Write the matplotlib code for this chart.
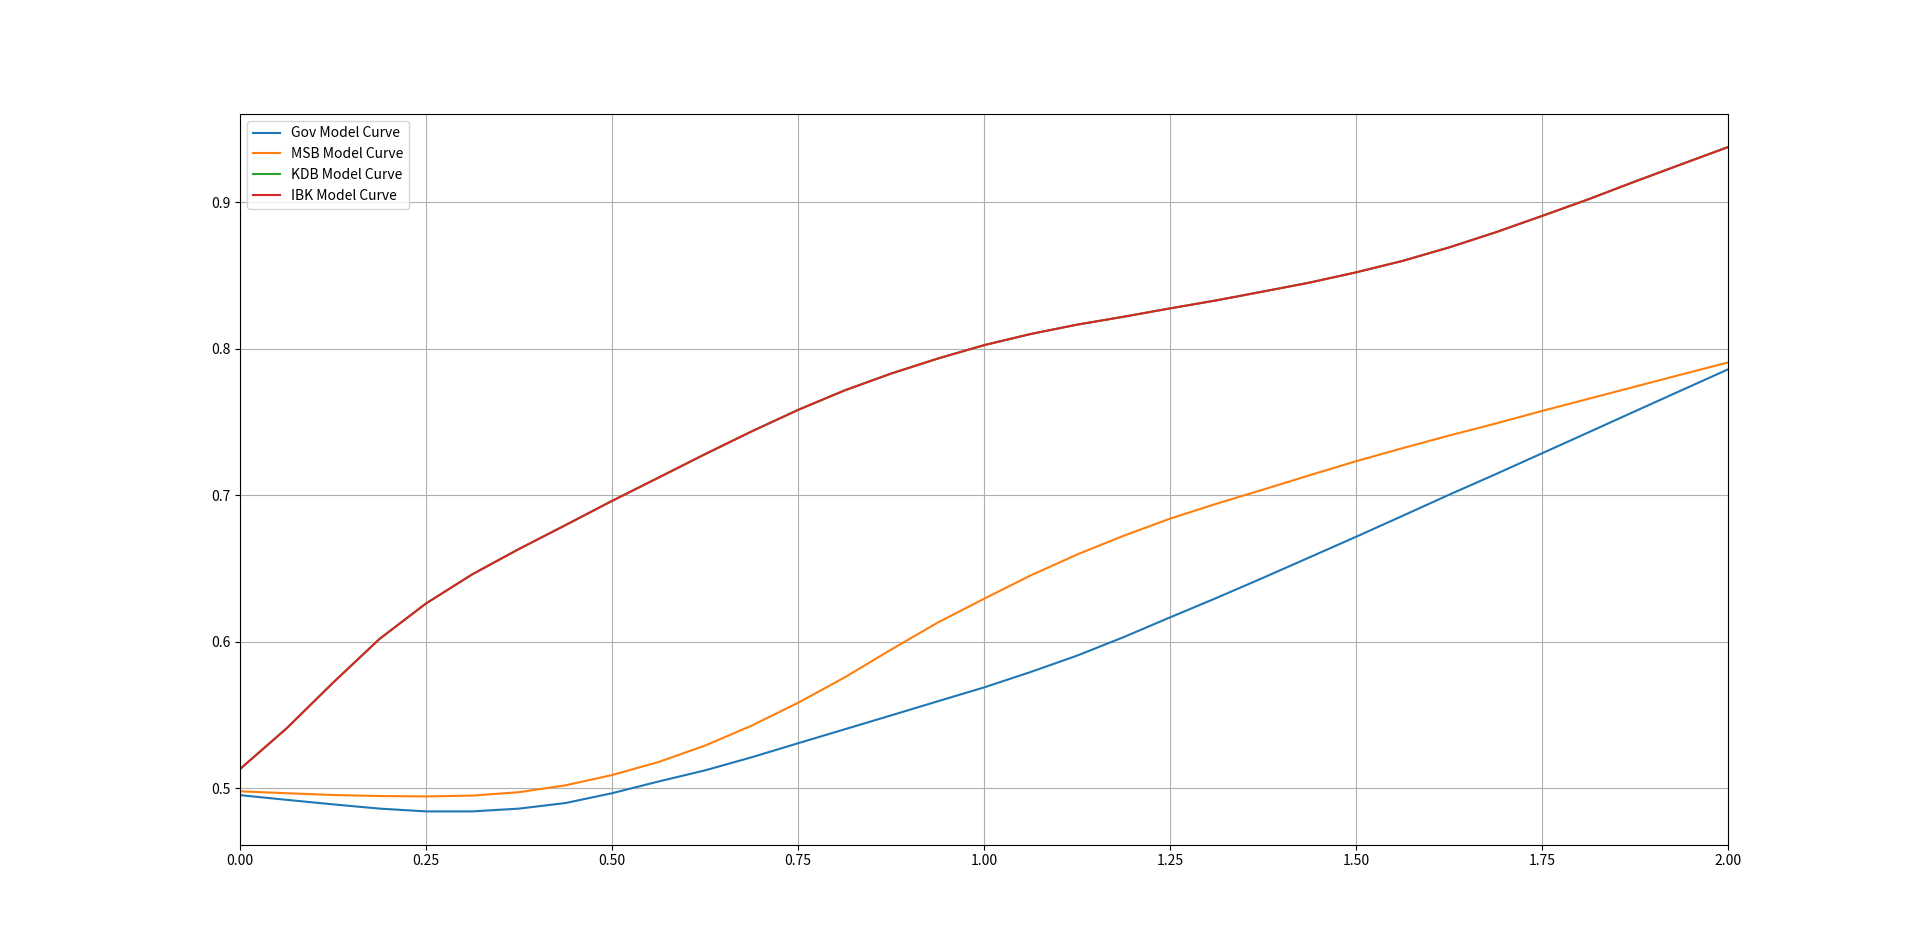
import matplotlib
matplotlib.use('Agg')
import matplotlib.pyplot as plt

plt.rcParams['font.family'] = ['Noto Sans CJK KR', 'DejaVu Sans']
plt.rcParams['axes.unicode_minus'] = False

# --- 값 ---
x_vals = [0.0, 0.0625, 0.125, 0.1875, 0.25, 0.3125, 0.375, 0.4375,
          0.5, 0.5625, 0.625, 0.6875, 0.75, 0.8125, 0.875, 0.9375,
          1.0, 1.0625, 1.125, 1.1875, 1.25, 1.3125, 1.375, 1.4375,
          1.5, 1.5625, 1.625, 1.6875, 1.75, 1.8125, 1.875, 1.9375, 2.0]

gov_curve = [0.4952, 0.4920, 0.4889, 0.4860, 0.4841, 0.4841, 0.4860, 0.4898,
             0.4965, 0.5045, 0.5121, 0.5210, 0.5306, 0.5401, 0.5496, 0.5592,
             0.5687, 0.5792, 0.5904, 0.6030, 0.6165, 0.6298, 0.6435, 0.6575,
             0.6715, 0.6858, 0.7002, 0.7142, 0.7285, 0.7428, 0.7572, 0.7715, 0.7858]
msb_curve = [0.4978, 0.4965, 0.4953, 0.4946, 0.4943, 0.4949, 0.4972, 0.5019,
             0.5089, 0.5178, 0.5290, 0.5426, 0.5582, 0.5755, 0.5945, 0.6129,
             0.6292, 0.6451, 0.6594, 0.6722, 0.6839, 0.6941, 0.7037, 0.7135,
             0.7231, 0.7320, 0.7406, 0.7488, 0.7574, 0.7657, 0.7740, 0.7823, 0.7905]
kdb_curve = [0.5130, 0.5407, 0.5719, 0.6018, 0.6260, 0.6460, 0.6632, 0.6795,
             0.6960, 0.7119, 0.7279, 0.7434, 0.7581, 0.7714, 0.7829, 0.7931,
             0.8023, 0.8099, 0.8163, 0.8217, 0.8274, 0.8329, 0.8389, 0.8450,
             0.8520, 0.8598, 0.8690, 0.8793, 0.8905, 0.9019, 0.9140, 0.9258, 0.9375]
ibk_curve = [0.5130, 0.5407, 0.5719, 0.6018, 0.6260, 0.6460, 0.6632, 0.6795,
             0.6960, 0.7119, 0.7279, 0.7434, 0.7581, 0.7714, 0.7829, 0.7931,
             0.8023, 0.8099, 0.8163, 0.8217, 0.8274, 0.8329, 0.8389, 0.8450,
             0.8520, 0.8598, 0.8690, 0.8793, 0.8905, 0.9019, 0.9140, 0.9258, 0.9375]

labels = ['Gov Model Curve', 'MSB Model Curve', 'KDB Model Curve', 'IBK Model Curve']

plt.figure(figsize=(19.2, 9.49), dpi=100)
for curve, lab in zip([gov_curve, msb_curve, kdb_curve, ibk_curve], labels):
    plt.plot(x_vals, curve, label=lab)

plt.xlim(0, 2)
plt.grid(True)
plt.legend(loc='upper left')

plt.savefig('out.png', dpi=100)
